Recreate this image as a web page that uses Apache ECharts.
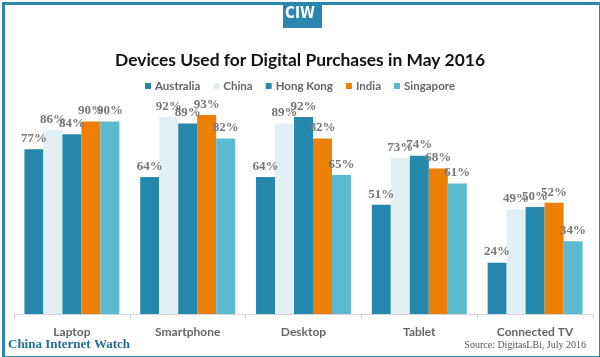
<!DOCTYPE html>
<html><head><meta charset="utf-8">
<script src="https://cdn.jsdelivr.net/npm/echarts@6/dist/echarts.min.js"></script>
<style>html,body{margin:0;padding:0;background:#fff}#c{width:600px;height:357px}</style>
</head><body><div id="c"></div>
<script>
const categories = ['Laptop', 'Smartphone', 'Desktop', 'Tablet', 'Connected TV'];
const seriesNames = ['Australia', 'China', 'Hong Kong', 'India', 'Singapore'];
const australia = [77, 64, 64, 51, 24];
const china = [86, 92, 89, 73, 49];
const hongKong = [84, 89, 92, 74, 50];
const india = [90, 93, 82, 68, 52];
const singapore = [90, 82, 65, 61, 34];
const colors = ['#2587ab', '#e2f0f6', '#2589ae', '#ec7f05', '#5bb9d0'];
const values = [australia, china, hongKong, india, singapore];

const chart = echarts.init(document.getElementById('c'), null, {renderer: 'canvas'});
chart.setOption({
  animation: false,
  backgroundColor: '#fff',
  title: {
    text: 'Devices Used for Digital Purchases in May 2016',
    left: 'center', top: 47,
    textStyle: {fontFamily: 'Lato', fontWeight: 'bold', fontSize: 17.4, color: '#111'}
  },
  legend: {
    top: 75, left: 'center',
    itemWidth: 6, itemHeight: 6, itemGap: 13,
    icon: 'rect',
    textStyle: {fontFamily: 'Lato', fontWeight: 'bold', fontSize: 11.5, color: '#666', padding: [0, 0, 0, -1]},
    data: seriesNames
  },
  grid: {left: 14, right: 7, top: 100, bottom: 43, containLabel: false},
  xAxis: {
    type: 'category', data: categories,
    axisLine: {lineStyle: {color: '#d6d6d6'}},
    axisTick: {show: true, length: 5, lineStyle: {color: '#d6d6d6'}},
    axisLabel: {margin: 12, fontFamily: 'Lato', fontWeight: 'bold', fontSize: 12, color: '#666'}
  },
  yAxis: {type: 'value', min: 0, max: 100, show: false, splitLine: {show: false}},
  series: seriesNames.map((n, i) => ({
    name: n, type: 'bar', data: values[i],
    barGap: '0%', barCategoryGap: '18%',
    itemStyle: {color: colors[i]},
    label: {
      show: true, position: 'top', distance: 4,
      formatter: '{c}%',
      fontFamily: 'Liberation Serif', fontWeight: 'bold', fontSize: 13, color: '#777'
    }
  })),
  graphic: [
    {type: 'rect', left: 1, top: 1, shape: {width: 597, height: 354}, style: {fill: 'none', stroke: '#2a87ad', lineWidth: 3}, z: 10},
    {type: 'rect', left: 283, top: 2, shape: {width: 39, height: 26}, style: {fill: '#2a87ad'}, z: 11},
    {type: 'text', left: 'center', top: 7, style: {text: 'CIW', fill: '#fff', font: 'bold 15px "DejaVu Sans Condensed"'}, z: 12},
    {type: 'text', left: 8, top: 338, style: {text: 'China Internet Watch', fill: '#1f6f98', font: 'bold 13px "Liberation Serif"'}, z: 12},
    {type: 'text', right: 14, top: 340, style: {text: 'Source: DigitasLBi, July 2016', fill: '#555', font: '10px "Liberation Serif"'}, z: 12}
  ]
});
</script></body></html>
